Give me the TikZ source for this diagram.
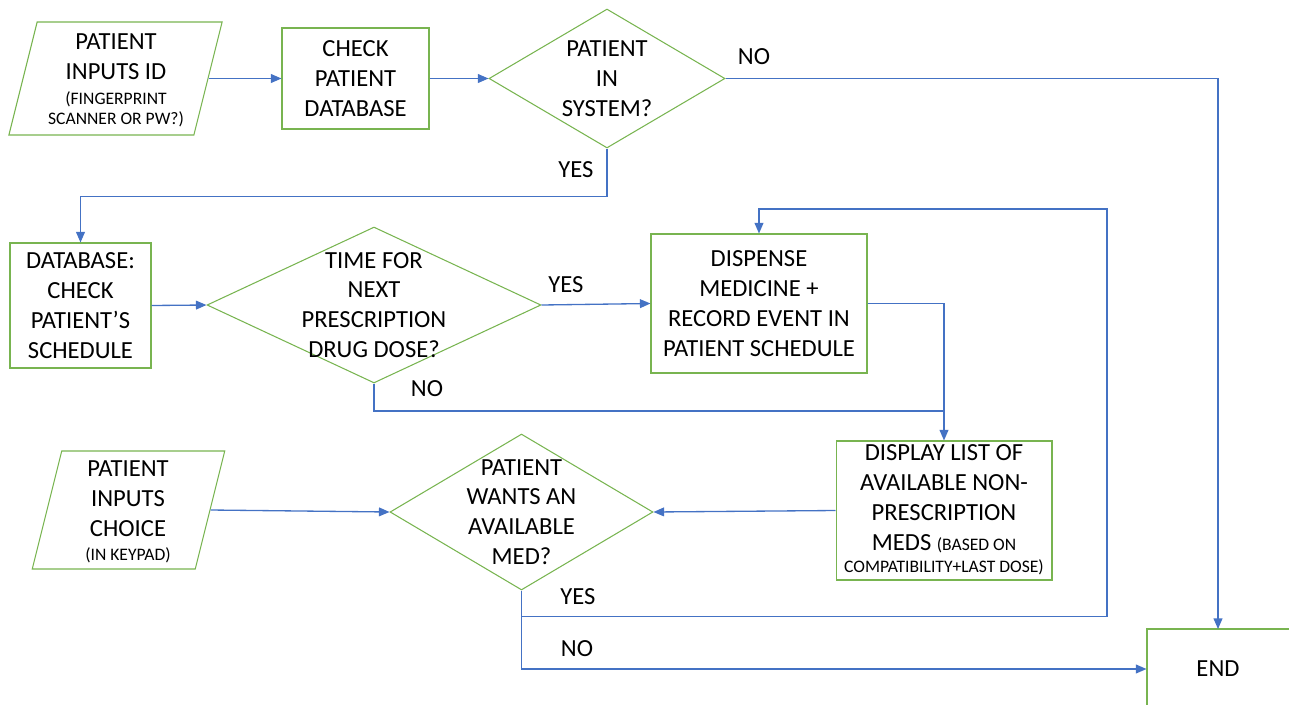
\documentclass[tikz,border=0pt]{standalone}
\usepackage{fontspec}
\setmainfont{Carlito}
\usetikzlibrary{shapes.geometric,arrows.meta}
\definecolor{boxgreen}{RGB}{120,180,80}
\definecolor{lineblue}{RGB}{68,114,196}
\newcommand{\smalltxt}[1]{{\fontsize{10}{11}\selectfont #1}}

\begin{document}
\begin{tikzpicture}[x=0.02cm,y=-0.02cm,
    box/.style={draw=boxgreen,line width=0.6pt,rectangle,inner sep=0pt},
    decision/.style={draw=boxgreen,line width=0.6pt,diamond,inner sep=0pt},
    io/.style={draw=boxgreen,line width=0.6pt,rectangle,inner sep=0pt,xslant=0.25,transform shape},
    txt/.style={align=center,inner sep=0pt,font=\fontsize{14}{17}\selectfont},
    flow/.style={draw=lineblue,line width=0.75pt,-{Triangle[length=6pt,width=5pt]}},
    link/.style={draw=lineblue,line width=0.75pt}]
  \useasboundingbox (0,0) rectangle (1289,704);
  \clip (0,0) rectangle (1289,704);

  % shapes
  \node[io,minimum width=3.7cm,minimum height=2.26cm] (in1) at (115.5,78.5) {};
  \node[box,minimum width=2.94cm,minimum height=2.02cm] (chk) at (355.5,78.5) {};
  \node[decision,minimum width=4.72cm,minimum height=2.78cm] (d1) at (607,78.5) {};
  \node[box,minimum width=2.82cm,minimum height=2.5cm] (db) at (80.5,305.5) {};
  \node[decision,minimum width=6.68cm,minimum height=3.12cm] (d2) at (374,305) {};
  \node[box,minimum width=4.32cm,minimum height=2.78cm] (disp) at (759,303.5) {};
  \node[box,minimum width=4.32cm,minimum height=2.78cm] (lst) at (944,510.5) {};
  \node[io,minimum width=3.26cm,minimum height=2.36cm] (in2) at (128.5,510) {};
  \node[decision,minimum width=5.26cm,minimum height=3.12cm] (d3) at (521.5,512) {};
  \node[box,minimum width=2.9cm,minimum height=1.6cm] (end) at (1219.5,669) {};

  % texts
  \node[txt] (in1t) at (116,80) {PATIENT\\INPUTS ID\\[-2.5pt]\smalltxt{(FINGERPRINT}\\[-6pt]\smalltxt{SCANNER OR PW?)}};
  \node[txt] (chkt) at (chk) {CHECK\\PATIENT\\DATABASE};
  \node[txt] (d1t) at (d1) {PATIENT\\IN\\SYSTEM?};
  \node[txt] (dbt) at (db) {DATABASE:\\CHECK\\PATIENT’S\\SCHEDULE};
  \node[txt] (d2t) at (d2) {TIME FOR\\NEXT\\PRESCRIPTION\\DRUG DOSE?};
  \node[txt] (dispt) at (disp) {DISPENSE\\MEDICINE +\\RECORD EVENT IN\\PATIENT SCHEDULE};
  \node[txt] (lstt) at (944,510) {DISPLAY LIST OF\\AVAILABLE NON-\\PRESCRIPTION\\MEDS \smalltxt{(BASED ON}\\[-4.5pt]\smalltxt{COMPATIBILITY+LAST DOSE)}};
  \node[txt] (in2t) at (128,512) {PATIENT\\INPUTS\\CHOICE\\[-3pt]\smalltxt{(IN KEYPAD)}};
  \node[txt] (d3t) at (d3) {PATIENT\\WANTS AN\\AVAILABLE\\MED?};
  \node[txt] (endt) at (1218,669) {END};

  % connectors
  \coordinate (merge) at (944,411);
  \coordinate (back) at (1107,209);
  \coordinate (endtop) at (1218,629);
  \draw[flow] (in1.east) -- (chk.west);
  \draw[flow] (chk.east) -- (d1.west);
  \draw[flow] (d1.east) -| (endtop);
  \draw[flow] (d1.south) -- ++(0,48) -| (db.north);
  \draw[flow] (db.east) -- (d2.west);
  \draw[flow] (d2.east) -- (disp.west);
  \draw[flow] (disp.east) -| (lst.north);
  \draw[link] (d2.south) |- (merge);
  \draw[flow] (lst.west) -- (d3.east);
  \draw[flow] (in2.east) -- (d3.west);
  \draw[flow] (d3.south) -- ++(0,26) -| (back) -| (disp.north);
  \draw[flow] (d3.south) |- (end.west);

  % branch labels
  \node[txt] (no1) at (754,57) {NO};
  \node[txt] (yes1) at (576,170) {YES};
  \node[txt] (yes2) at (566,285) {YES};
  \node[txt] (no2) at (427,389) {NO};
  \node[txt] (yes3) at (578,597) {YES};
  \node[txt] (no3) at (577,649) {NO};
\end{tikzpicture}
\end{document}
